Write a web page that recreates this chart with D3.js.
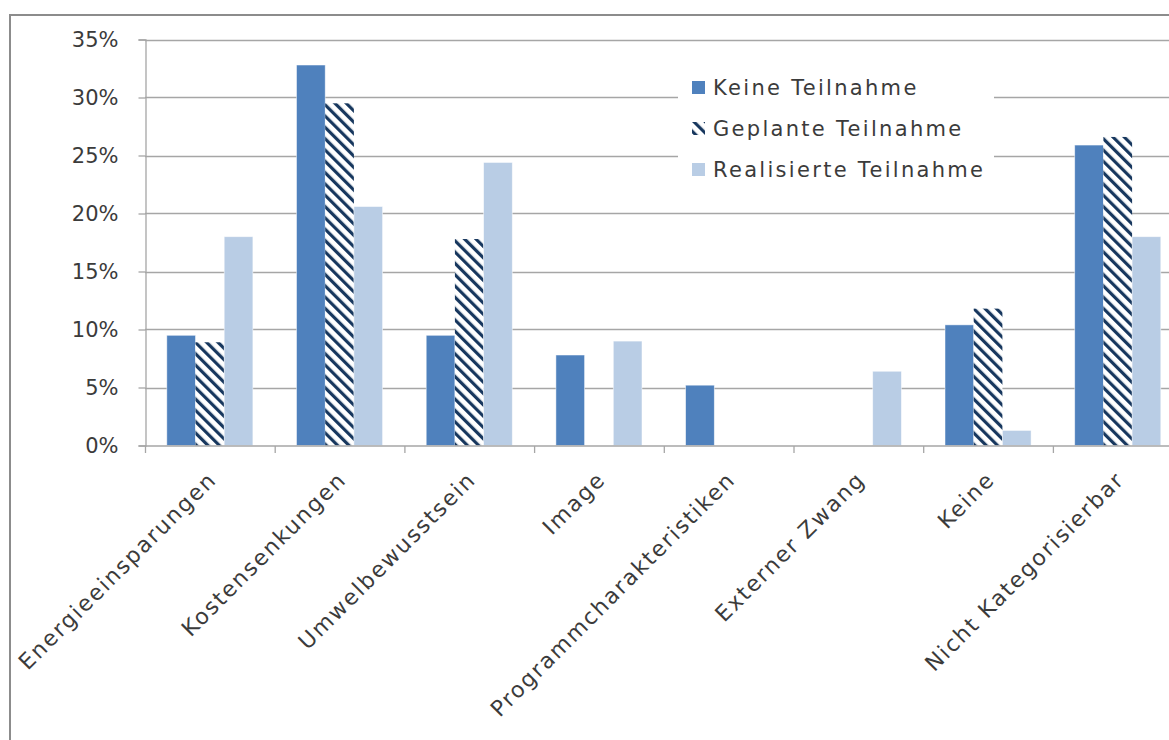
<!DOCTYPE html>
<html>
<head>
<meta charset="utf-8">
<script src="https://cdn.jsdelivr.net/npm/d3@7"></script>
<style>
  html, body { margin: 0; padding: 0; background: #fff; }
  svg { display: block; }
  text { font-family: "DejaVu Sans", sans-serif; fill: #3b3b3b; }
</style>
</head>
<body>
<svg id="chart" width="1169" height="740"></svg>
<script>
// Beweggründe für die (Nicht-)Teilnahme, Anteil der Nennungen
const categories = ["Energieeinsparungen", "Kostensenkungen", "Umwelbewusstsein", "Image",
  "Programmcharakteristiken", "Externer Zwang", "Keine", "Nicht Kategorisierbar"];
const seriesNames = ["Keine Teilnahme", "Geplante Teilnahme", "Realisierte Teilnahme"];
const keineTeilnahme      = [0.095, 0.328, 0.095, 0.078, 0.052, 0.000, 0.104, 0.259];
const geplanteTeilnahme   = [0.089, 0.295, 0.178, 0.000, 0.000, 0.000, 0.118, 0.266];
const realisierteTeilnahme = [0.180, 0.206, 0.244, 0.090, 0.000, 0.064, 0.013, 0.180];
const yTicks = [0, 0.05, 0.10, 0.15, 0.20, 0.25, 0.30, 0.35];

const seriesValues = [keineTeilnahme, geplanteTeilnahme, realisierteTeilnahme];
const fills = ["#4f81bd", "url(#hatch)", "#b9cde5"];

const svg = d3.select("#chart");

// downward diagonal stripes for the planned series
const defs = svg.append("defs");
const pat = defs.append("pattern")
  .attr("id", "hatch").attr("patternUnits", "userSpaceOnUse")
  .attr("width", 8).attr("height", 8)
  .attr("patternTransform", "rotate(-45)");
pat.append("rect").attr("width", 8).attr("height", 8).attr("fill", "#fff");
pat.append("rect").attr("x", 0).attr("y", 0).attr("width", 3.2).attr("height", 8).attr("fill", "#17375e");

// outer chart frame
svg.append("rect")
  .attr("x", 10).attr("y", 15).attr("width", 1200).attr("height", 800)
  .attr("fill", "#fff").attr("stroke", "#8c8c8c").attr("stroke-width", 2);

const plotLeft = 145, plotTop = 39.5, plotBottom = 445.5;
const step = 129.7;

const x0 = d3.scaleBand().domain(categories)
  .range([plotLeft, plotLeft + step * categories.length]).padding(0);
const x1 = d3.scaleBand().domain(seriesNames)
  .range([0, x0.bandwidth()]).paddingInner(0).paddingOuter(0.76);
const y = d3.scaleLinear().domain([0, 0.35]).range([plotBottom, plotTop]);

// horizontal gridlines
svg.append("g").selectAll("line").data(yTicks.slice(1)).join("line")
  .attr("x1", plotLeft).attr("x2", 1169)
  .attr("y1", d => Math.round(y(d)) + 0.5).attr("y2", d => Math.round(y(d)) + 0.5)
  .attr("stroke", "#a6a6a6").attr("stroke-width", 1.3);

// bars
const groups = svg.append("g").selectAll("g").data(categories).join("g")
  .attr("transform", c => `translate(${x0(c)},0)`);
groups.selectAll("rect")
  .data((c, i) => seriesNames.map((s, k) => ({ s, k, v: seriesValues[k][i] })).filter(d => d.v > 0))
  .join("rect")
  .attr("x", d => x1(d.s))
  .attr("width", x1.bandwidth())
  .attr("y", d => y(d.v))
  .attr("height", d => plotBottom - y(d.v))
  .attr("fill", d => fills[d.k])
  .attr("stroke", d => d.k === 1 ? "none" : "rgba(255,255,255,0.6)")
  .attr("stroke-width", 0.8);

// y axis
const yAxis = svg.append("g").attr("transform", `translate(${plotLeft + 0.5},0)`)
  .call(d3.axisLeft(y).tickValues(yTicks).tickSize(7).tickPadding(20)
    .tickFormat(d => Math.round(d * 100) + "%"));
yAxis.select(".domain").attr("stroke", "#a6a6a6").attr("stroke-width", 1.3);
yAxis.selectAll(".tick line").attr("stroke", "#a6a6a6").attr("stroke-width", 1.3);
yAxis.selectAll(".tick text").attr("font-size", 21).attr("fill", "#3b3b3b")
  .attr("font-family", "DejaVu Sans");

// x axis baseline and category separators
const xAxis = svg.append("g").attr("transform", `translate(0,${plotBottom + 0.5})`);
xAxis.append("line").attr("x1", plotLeft).attr("x2", 1169)
  .attr("stroke", "#a6a6a6").attr("stroke-width", 1.3);
xAxis.selectAll("line.sep").data(categories).join("line").attr("class", "sep")
  .attr("x1", c => x0(c) + 0.5).attr("x2", c => x0(c) + 0.5)
  .attr("y1", 0).attr("y2", 7)
  .attr("stroke", "#a6a6a6").attr("stroke-width", 1.3);

// rotated category labels
xAxis.selectAll("text").data(categories).join("text")
  .attr("transform", c => `translate(${x0(c) + x0.bandwidth() / 2 + 8},35) rotate(-45)`)
  .attr("text-anchor", "end")
  .attr("font-size", 22)
  .attr("letter-spacing", 1.8)
  .text(c => c);

// legend
const lg = svg.append("g");
lg.append("rect").attr("x", 678).attr("y", 66).attr("width", 316).attr("height", 126)
  .attr("fill", "#fff");
const items = lg.selectAll("g").data(seriesNames).join("g")
  .attr("transform", (d, i) => `translate(692,${81 + i * 41})`);
items.append("rect").attr("width", 13).attr("height", 13)
  .attr("fill", (d, i) => fills[i]);
items.append("text").attr("x", 21).attr("y", 14).attr("font-size", 21)
  .attr("letter-spacing", 2.3).text(d => d);
</script>
</body>
</html>
